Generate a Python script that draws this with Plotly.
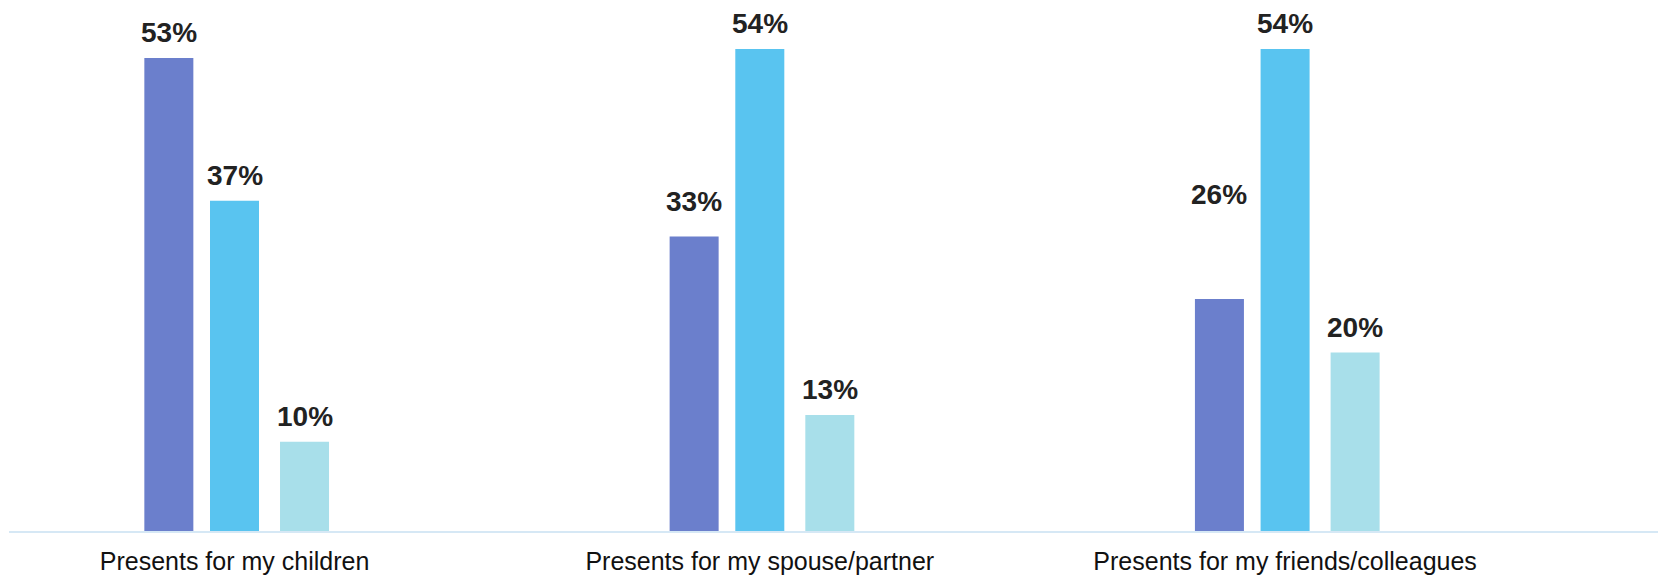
import plotly.graph_objects as go

categories = ["Presents for my children", "Presents for my spouse/partner", "Presents for my friends/colleagues"]
series_a = [53, 33, 26]
series_b = [37, 54, 54]
series_c = [10, 13, 20]
series_names = ["Series 1", "Series 2", "Series 3"]

colors = ["#6b7fcc", "#59c4f0", "#a8dfea"]
offsets = [-0.125, 0.0, 0.1333]      # bar centre offsets (category units)
bar_width = 0.0933
# extra pixel lift for individual value labels (style only)
label_lift = [[0, 0, 0], [10, 0, 0], [79, 0, 0]]

xs = list(range(len(categories)))
fig = go.Figure()
for k, (vals, name) in enumerate(zip([series_a, series_b, series_c], series_names)):
    fig.add_trace(go.Bar(
        x=xs, y=vals, name=name,
        width=bar_width, offset=offsets[k] - bar_width / 2,
        marker=dict(color=colors[k], line=dict(width=0)),
        showlegend=False, hoverinfo="skip",
    ))
    for i, v in enumerate(vals):
        fig.add_annotation(
            x=xs[i] + offsets[k], y=v, text=f"<b>{v}%</b>",
            showarrow=False, yanchor="bottom", xanchor="center",
            yshift=8 + label_lift[i][k],
            font=dict(family="Liberation Sans, Arial, sans-serif", size=28, color="#222222"),
        )

fig.update_layout(
    width=1658, height=576,
    margin=dict(l=9, r=0, t=0, b=45),
    paper_bgcolor="white", plot_bgcolor="white",
    barmode="overlay",
    xaxis=dict(
        range=[-0.4293, 2.7099], tickvals=xs, ticktext=categories,
        showgrid=False, zeroline=False, showline=True,
        linecolor="#d6e8f5", linewidth=2, automargin=False,
        ticks="outside", ticklen=7, tickcolor="rgba(0,0,0,0)",
        tickfont=dict(family="Liberation Sans, Arial, sans-serif", size=25, color="#111111"),
    ),
    yaxis=dict(range=[0, 59.5], visible=False, showgrid=False, zeroline=False,
               automargin=False),
)

fig.write_html(
    "out.html",
    config={"displayModeBar": False},
    post_script="document.body.style.margin='0';document.body.style.overflow='hidden';",
)
